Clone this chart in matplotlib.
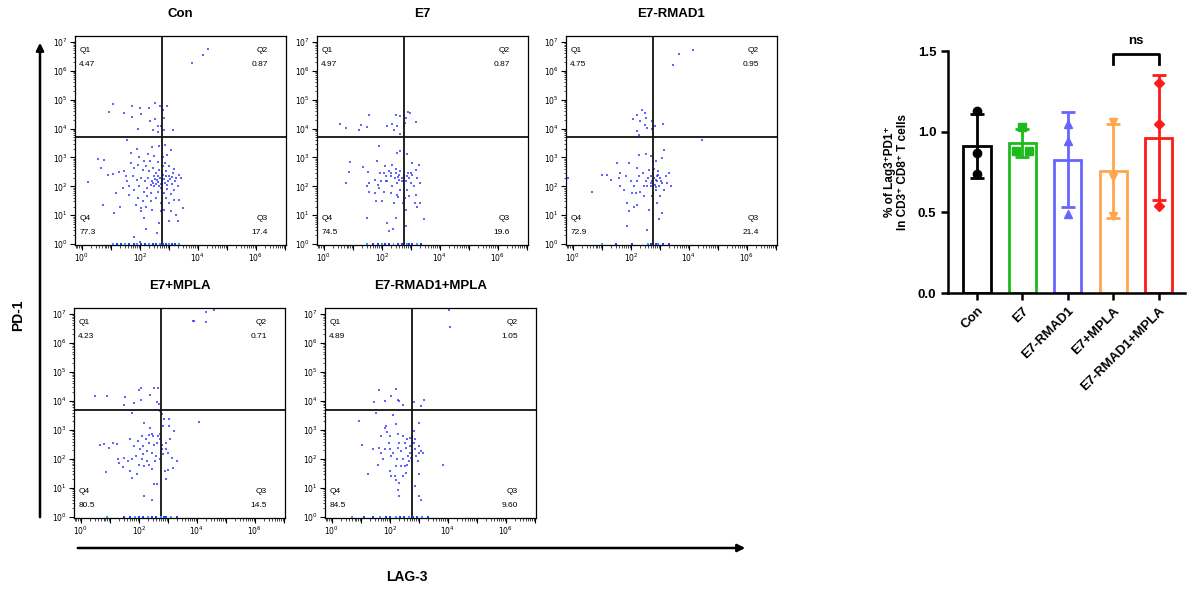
import numpy as np
import matplotlib.pyplot as plt
from matplotlib.patches import FancyArrowPatch
from matplotlib.ticker import FixedLocator, NullFormatter

plt.rcParams['font.family'] = ['Liberation Sans', 'DejaVu Sans']

W, H = 1192, 590

# ---- flow panels ----
panelTitles = ['Con', 'E7', 'E7-RMAD1', 'E7+MPLA', 'E7-RMAD1+MPLA']
q1Vals = ['4.47', '4.97', '4.75', '4.23', '4.89']
q2Vals = ['0.87', '0.87', '0.95', '0.71', '1.05']
q3Vals = ['17.4', '19.6', '21.4', '14.5', '9.60']
q4Vals = ['77.3', '74.5', '72.9', '80.5', '84.5']

# events as (log10 LAG-3, log10 PD-1)
con_pts = [(3.78,6.25),(4.18,6.54),(4.34,6.76),
    (1.06,4.84),(0.95,4.58),(1.46,4.54),(1.71,4.78),(2.0,4.7),(1.74,4.39),(2.03,4.51),(2.32,4.7),
    (2.53,4.88),(2.69,4.77),(2.78,4.65),(2.95,4.77),(2.84,4.36),(2.36,4.25),(2.52,4.33),(2.63,4.08),
    (1.92,3.98),(2.45,3.96),(2.61,3.88),(2.72,4.08),(3.13,3.96),(2.84,3.96),
    (0.56,2.94),(0.75,2.9),(0.2,2.15),(0.66,2.63),(0.71,1.34),(1.09,1.07),(0.89,2.4),(1.06,2.44),
    (1.29,2.49),(1.46,2.52),(1.17,1.77),(1.63,1.69),(1.31,1.3),(1.78,0.24),(2.0,0.08),(2.2,0.52),
    (2.59,0.4),(2.15,0.9),(2.03,1.13),(2.67,0.73),(2.72,1.13),(3.07,1.13),(3.3,0.79),(3.24,1.02),
    (3.01,0.79),(3.5,1.25),(3.41,2.29),(3.36,1.54),
    (1.55,3.61),(1.9,3.3),(2.4,3.36),(2.67,3.38),(2.87,3.42),(3.07,3.27),(2.92,3.09),(2.29,3.13),
    (1.69,3.15),(1.98,3.0),(2.49,3.04),(2.78,3.0),
    (1.69,2.81),(1.8,2.63),(1.92,2.75),(2.09,2.58),(2.21,2.69),(2.32,2.52),(2.44,2.63),(2.55,2.46),
    (2.67,2.58),(2.78,2.4),(2.9,2.52),(3.01,2.34),(3.13,2.46),(3.24,2.29),(3.36,2.4),(1.75,2.34),
    (1.9,2.23),(2.03,2.29),(2.17,2.17),(2.29,2.29),(2.4,2.17),(2.52,2.25),(2.63,2.14),(2.75,2.23),
    (2.86,2.11),(2.98,2.2),(3.09,2.09),(3.21,2.17),(1.63,2.0),(1.8,1.88),(1.98,2.0),(2.13,1.82),
    (2.26,1.94),(2.38,1.77),(2.49,2.0),(2.61,1.82),(2.72,1.94),(2.84,1.77),(2.95,1.91),(3.07,1.74),
    (3.18,1.88),(1.92,1.59),(2.09,1.48),(2.24,1.65),(2.38,1.48),(2.55,1.59),(2.72,1.42),(2.9,1.59),
    (3.01,1.42),(3.16,1.54),(2.15,2.86),(2.36,2.86),(2.61,2.83),(2.86,2.81),(2.03,1.25),(2.4,1.19),
    (2.84,1.19),(1.57,2.17),(1.52,2.34),(1.4,1.94),(2.38,2.06),(2.55,2.09),(2.72,2.09),(2.9,2.34),
    (2.63,2.34),(2.47,2.34),(2.78,2.69),(3.01,2.69),(3.18,2.6),(3.3,2.0),(1.86,1.36),(2.2,1.28),
    (2.7,2.3),(2.82,2.27),(2.95,2.05),(3.05,2.25),(2.58,2.21),(2.66,2.0),(2.46,2.12),(3.12,2.32)]
e7_pts = [(0.57,4.17),(0.75,4.01),(1.21,3.96),(1.29,4.13),(1.49,4.05),(1.57,4.46),(2.16,4.08),
    (2.36,4.16),(2.47,4.46),(2.62,4.42),(2.51,4.08),(2.41,3.96),(2.64,3.82),(2.82,4.36),(2.9,4.58),
    (2.97,4.54),(2.79,4.19),(3.16,4.21),(2.76,4.08),
    (1.9,3.38),(2.53,3.15),(2.64,3.21),(2.85,3.13),(0.89,2.84),(0.87,2.49),(0.75,2.11),(1.34,2.66),
    (1.53,2.49),(1.84,2.86),(2.1,2.69),(2.36,2.75),(2.49,2.6),(2.3,2.46),(2.13,2.34),(2.18,2.17),
    (2.44,2.29),(2.59,2.4),(2.7,2.17),(2.85,2.34),(2.99,2.46),(3.16,2.58),(3.28,2.75),(3.05,2.81),
    (3.22,2.29),(3.33,2.11),(3.1,2.0),(2.87,1.88),(2.93,1.65),(3.16,1.71),(3.13,1.42),(3.33,1.42),
    (3.45,0.88),(3.22,1.27),(2.64,1.88),(2.51,1.71),(2.3,1.77),(2.07,1.82),(1.9,1.94),(2.01,1.48),
    (1.78,1.48),(1.56,1.82),(1.49,2.0),(1.55,2.11),(1.76,2.23),(1.86,2.06),(1.95,2.46),(1.98,2.17),
    (2.36,2.0),(2.53,2.11),(2.41,1.42),(2.55,1.62),(2.74,1.42),(2.79,1.59),(1.49,0.92),(2.18,0.73),
    (2.26,0.44),(2.39,0.52),(2.47,0.9),(2.82,0.61),(2.82,1.19),(1.76,1.77),
    (2.3,2.34),(2.47,2.46),(2.64,2.52),(2.76,2.34),(2.93,2.29),(3.05,2.4),(2.82,2.17),(2.99,2.11),
    (2.59,2.23),(2.24,2.52),(2.07,2.46),(2.13,2.17),(2.68,2.3),(2.9,2.45),(2.55,2.33)]
rmad_pts = [(4.15,6.71),(3.67,6.59),(3.46,6.18),(4.46,3.61),
    (2.07,4.33),(2.22,4.48),(2.39,4.63),(2.48,4.54),(2.51,4.36),(2.33,4.25),(2.48,4.11),(2.54,4.02),
    (2.74,4.27),(2.72,3.98),(2.82,4.08),(2.22,3.9),(2.28,3.79),(3.11,4.17),
    (-0.16,2.29),(0.64,1.79),(0.99,2.38),(1.18,2.4),(1.51,2.81),(1.3,2.23),(1.59,2.29),(1.62,2.0),
    (1.82,2.34),(1.93,2.81),(1.99,2.17),(1.87,1.42),(1.93,1.13),(2.1,1.3),(2.28,3.09),(2.51,3.13),
    (2.68,3.04),(2.1,2.0),(2.2,2.63),(2.28,2.34),(2.33,1.79),(2.45,1.65),(2.43,2.46),(2.51,2.17),
    (2.56,2.0),(2.62,2.58),(2.68,2.34),(2.74,2.17),(2.82,2.06),(2.89,2.34),(2.94,2.52),(3.02,2.29),
    (3.08,2.11),(3.14,1.88),(3.2,2.34),(3.25,2.11),(3.31,2.46),(3.37,2.0),(3.0,1.65),(2.91,1.42),
    (3.08,1.07),(2.97,0.87),(3.14,3.27),(3.06,2.98),(2.85,2.86),(2.62,1.19),(2.56,0.5),(1.87,0.61),
    (2.77,1.77),(2.85,1.88),(2.74,1.65),(2.91,2.17),(2.79,2.29),(2.77,2.46),(2.97,2.0),(2.68,2.0),
    (2.45,2.0),(2.22,2.17),(2.16,1.77),(2.05,1.77),(1.76,1.88),(1.64,2.46),(2.2,1.36),
    (2.85,2.22),(2.95,2.4),(2.7,2.12),(2.88,1.98),(3.05,2.2),(2.6,2.28),(2.8,2.6)]
e7mpla_pts = [(3.85,6.76),(4.3,7.07),(4.59,7.12),(4.3,6.72),(3.9,6.76),
    (0.48,4.18),(0.89,4.18),(1.52,4.15),(1.49,3.86),(1.83,3.93),(2.01,4.38),(2.07,4.43),(2.38,4.2),
    (2.52,4.43),(2.67,4.43),(2.07,4.04),(2.63,3.98),(2.7,3.91),(4.07,3.26),
    (1.77,3.58),(2.17,3.23),(2.72,3.66),(2.78,3.55),(2.86,3.39),(3.03,3.39),(3.05,3.14),(2.84,3.14),
    (3.21,2.97),(2.44,2.85),(2.09,2.79),(2.24,2.68),(1.98,2.62),(1.69,2.7),(1.83,2.45),(2.15,2.45),
    (2.36,2.54),(2.53,2.47),(2.61,2.56),(2.78,2.5),(2.95,2.56),(3.07,2.68),(2.93,2.33),(3.01,2.22),
    (2.84,2.16),(3.13,2.04),(3.32,1.93),(3.18,1.7),(3.01,1.62),(2.9,1.58),(2.93,1.32),(2.72,1.99),
    (2.59,2.1),(2.44,2.22),(2.29,2.27),(2.15,2.16),(2.03,2.33),(1.9,2.1),(1.75,1.99),(1.63,1.93),
    (1.48,2.04),(1.32,1.87),(1.29,1.99),(1.46,1.73),(1.69,1.58),(1.92,1.5),(2.17,1.76),(2.36,1.81),
    (2.46,1.64),(2.55,1.93),(2.29,1.93),(2.09,1.99),(2.0,1.81),(0.66,2.48),(0.8,2.51),(1.11,2.54),
    (1.25,2.51),(0.98,2.39),(0.86,1.55),(1.75,1.33),(2.18,0.74),(2.46,0.6),(2.52,1.15),(2.61,1.15),
    (2.67,2.79),(2.72,2.68),(2.78,2.33),(2.74,2.85),(2.36,2.83),(2.38,3.08),(2.47,2.79)]
rmadmpla_pts = [(4.03,7.12),(4.09,6.55),
    (1.62,4.38),(1.44,3.98),(1.82,4.0),(2.05,4.18),(2.2,4.41),(2.28,4.04),(2.33,4.0),(2.45,3.86),
    (2.82,3.97),(3.08,3.83),(3.17,4.03),
    (0.95,3.31),(1.05,2.48),(1.24,1.5),(1.41,2.33),(1.51,3.6),(1.59,1.81),(1.64,2.39),(1.7,2.79),
    (1.82,3.08),(1.87,3.14),(1.9,2.93),(1.97,2.56),(1.99,2.33),(2.05,2.1),(2.05,1.41),(2.16,1.41),
    (2.1,3.51),(2.2,3.2),(2.28,2.86),(2.33,2.56),(2.39,2.27),(2.45,1.99),(2.51,1.76),(2.22,1.29),
    (2.28,0.95),(2.33,1.18),(2.45,1.41),(2.56,1.52),(2.59,1.81),(2.62,2.1),(2.56,2.39),(2.51,2.56),
    (2.45,2.79),(2.6,2.68),(2.68,2.45),(2.7,2.22),(2.66,1.93),(2.77,2.79),(2.82,2.56),(2.85,2.33),
    (2.91,2.1),(2.97,1.93),(3.02,2.22),(3.08,2.27),(3.14,2.22),(3.0,2.45),(3.02,3.25),(2.82,2.95),
    (2.85,2.68),(3.0,1.5),(3.02,0.74),(3.08,0.6),(2.85,1.06),(3.83,1.78),(2.33,0.74),(2.1,2.22),
    (1.99,2.79),(1.82,2.33),(1.7,2.22),(1.76,1.99),(1.99,1.59),(2.22,1.76),(2.28,2.39),(2.24,1.99),
    (2.68,2.74),(2.74,2.04),(2.39,1.76)]
# events piled up on the lower edge (log10 LAG-3)
con_floor = [1.06,1.2,1.35,1.5,1.62,1.78,1.9,2.05,2.18,2.3,2.44,2.55,2.68,2.8,2.9,3.0,3.1,3.22,3.35]
e7_floor = [1.5,1.7,1.85,2.0,2.1,2.25,2.4,2.55,2.7,2.85,2.95,3.05,3.2,3.35]
rmad_floor = [1.0,1.5,2.05,2.6,2.7,2.85,2.95,3.1,3.3]
e7mpla_floor = [0.9,1.5,1.7,1.85,2.0,2.15,2.3,2.45,2.6,2.75,2.85,2.95,3.1,3.3]
rmadmpla_floor = [0.7,1.1,1.4,1.65,1.85,2.0,2.2,2.35,2.5,2.65,2.8,2.95,3.1,3.3]

panelPts = [con_pts, e7_pts, rmad_pts, e7mpla_pts, rmadmpla_pts]
panelFloor = [con_floor, e7_floor, rmad_floor, e7mpla_floor, rmadmpla_floor]
gateX, gateY = 2.77, 3.69

# ---- bar chart ----
groups = ['Con', 'E7', 'E7-RMAD1', 'E7+MPLA', 'E7-RMAD1+MPLA']
groupVals = [[1.13, 0.87, 0.74], [1.03, 0.88, 0.88], [1.05, 0.94, 0.49],
             [1.06, 0.72, 0.48], [1.30, 1.05, 0.54]]
groupColors = ['black', '#1cbb1c', '#6666ff', '#ffa64d', '#ff1a1a']
groupMarkers = ['o', 's', '^', 'v', 'D']

fig = plt.figure(figsize=(W/100, H/100), dpi=100)

def box(l, t, r, b):
    return [l/W, 1 - b/H, (r - l)/W, (b - t)/H]

# pixel boxes of the five dot plots
panelBoxes = [(75, 36, 286, 245), (317, 36, 528, 245), (566, 36, 777, 245),
              (74, 308, 285, 518), (325, 308, 536, 518)]

for i in range(5):
    ax = fig.add_axes(box(*panelBoxes[i]))
    pts = np.array(panelPts[i])
    ax.scatter(10**pts[:, 0], 10**pts[:, 1], s=1.6, marker='s', color='#3030ff',
               alpha=0.75, linewidths=0)
    fl = np.array(panelFloor[i])
    ax.scatter(10**fl, np.full(len(fl), 10**0.0), s=2, marker='s',
               color=['#20a0ff' if k % 3 == 0 else '#2040ff' for k in range(len(fl))],
               linewidths=0, clip_on=False, zorder=3)
    ax.set_xscale('log')
    ax.set_yscale('log')
    ax.set_xlim(10**-0.24, 10**7.04)
    ax.set_ylim(10**-0.03, 10**7.2)
    ax.axvline(10**gateX, color='#111111', lw=1.3)
    ax.axhline(10**gateY, color='#111111', lw=1.3)
    for s in ax.spines.values():
        s.set_linewidth(0.9)
    ax.xaxis.set_major_locator(FixedLocator([10.0**k for k in range(8)]))
    ax.yaxis.set_major_locator(FixedLocator([10.0**k for k in range(8)]))
    ax.set_xticklabels(['$10^{%d}$' % k if k % 2 == 0 else '' for k in range(8)])
    ax.set_yticklabels(['$10^{%d}$' % k for k in range(8)])
    ax.xaxis.set_minor_locator(FixedLocator([m*10.0**k for k in range(-1, 8) for m in range(2, 10)]))
    ax.yaxis.set_minor_locator(FixedLocator([m*10.0**k for k in range(-1, 8) for m in range(2, 10)]))
    ax.xaxis.set_minor_formatter(NullFormatter())
    ax.yaxis.set_minor_formatter(NullFormatter())
    ax.tick_params(which='major', direction='out', length=3.5, width=0.8, labelsize=5.5, pad=1.5)
    ax.tick_params(which='minor', direction='out', length=1.8, width=0.5)
    tk = dict(fontsize=6, transform=ax.transAxes, va='center')
    ax.text(0.02, 0.93, 'Q1', ha='left', **tk)
    ax.text(0.02, 0.865, q1Vals[i], ha='left', **tk)
    ax.text(0.915, 0.93, 'Q2', ha='right', **tk)
    ax.text(0.915, 0.865, q2Vals[i], ha='right', **tk)
    ax.text(0.02, 0.125, 'Q4', ha='left', **tk)
    ax.text(0.02, 0.06, q4Vals[i], ha='left', **tk)
    ax.text(0.915, 0.125, 'Q3', ha='right', **tk)
    ax.text(0.915, 0.06, q3Vals[i], ha='right', **tk)
    l, t, r, b = panelBoxes[i]
    fig.text((l + r)/2/W, 1 - (t - 22)/H, panelTitles[i], ha='center', va='center',
             fontsize=9.5, fontweight='bold')

# big axis arrows
fig.add_artist(FancyArrowPatch((40/W, 1 - 520/H), (40/W, 1 - 40/H), transform=fig.transFigure,
                               arrowstyle='-|>', mutation_scale=11, lw=1.8, color='black'))
fig.add_artist(FancyArrowPatch((75/W, 1 - 548/H), (748/W, 1 - 548/H), transform=fig.transFigure,
                               arrowstyle='-|>', mutation_scale=11, lw=1.8, color='black'))
fig.text(18/W, 1 - 315/H, 'PD-1', rotation=90, ha='center', va='center', fontsize=10, fontweight='bold')
fig.text(407/W, 1 - 577/H, 'LAG-3', ha='center', va='center', fontsize=10, fontweight='bold')

# bar chart
bx = fig.add_axes(box(948, 51, 1185, 293))
xpos = np.arange(len(groups))
jitter = [[0, 0, 0], [0, -0.15, 0.15], [0, 0, 0], [0, 0, 0], [0, 0, 0]]
for i in range(len(groups)):
    v = np.array(groupVals[i])
    m, sd = v.mean(), v.std(ddof=1)
    c = groupColors[i]
    bx.bar(xpos[i], m, width=0.6, facecolor='none', edgecolor=c, lw=2)
    bx.errorbar(xpos[i], m, yerr=sd, color=c, capsize=5, elinewidth=2, capthick=2)
    bx.plot(xpos[i] + np.array(jitter[i]), v, ls='none', marker=groupMarkers[i], color=c,
            markersize=6 if groupMarkers[i] != 'D' else 5)
bx.set_xlim(-0.64, 4.58)
bx.set_ylim(0, 1.5)
bx.set_yticks([0, 0.5, 1.0, 1.5])
bx.set_yticklabels(['0.0', '0.5', '1.0', '1.5'])
bx.set_xticks(xpos)
bx.set_xticklabels(groups, rotation=45, ha='right', rotation_mode='anchor')
for lab in bx.get_xticklabels() + bx.get_yticklabels():
    lab.set_fontweight('bold')
bx.tick_params(direction='out', length=5, width=1.8, labelsize=9.5)
bx.spines['top'].set_visible(False)
bx.spines['right'].set_visible(False)
bx.spines['left'].set_linewidth(1.8)
bx.spines['bottom'].set_linewidth(1.8)
bx.set_ylabel('% of Lag3\u207aPD1\u207a\nIn CD3\u207a CD8\u207a T cells', fontsize=8.5,
              fontweight='bold', labelpad=6)
# significance bracket
bx.plot([3, 3, 4, 4], [1.42, 1.48, 1.48, 1.42], color='black', lw=2, clip_on=False)
bx.text(3.5, 1.565, 'ns', ha='center', va='center', fontsize=9.5, fontweight='bold')

fig.savefig('out.png', dpi=100)
